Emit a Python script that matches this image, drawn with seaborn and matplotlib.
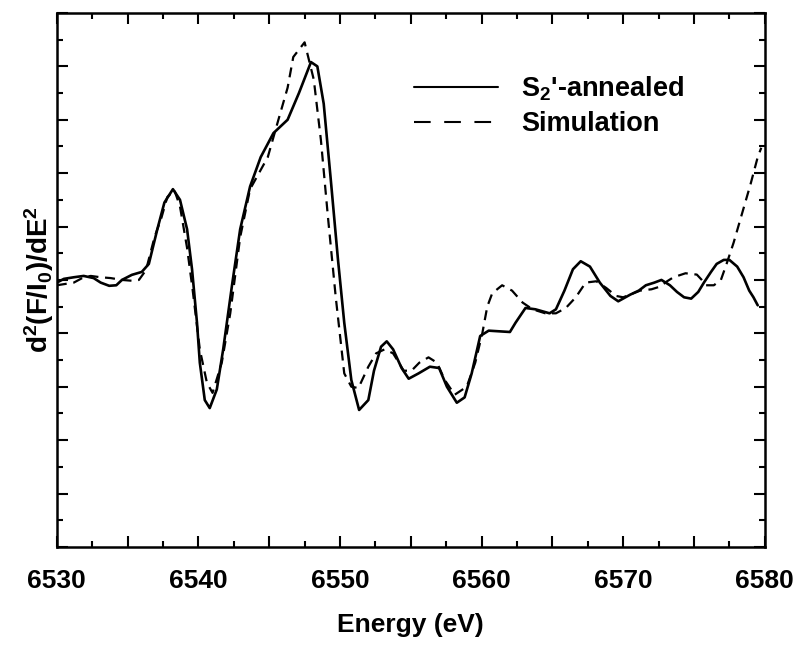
import numpy as np
import pandas as pd
import matplotlib
matplotlib.use("Agg")
import matplotlib.pyplot as plt
from matplotlib.lines import Line2D
from matplotlib.ticker import MultipleLocator, FuncFormatter
import seaborn as sns

# S2'-annealed spectrum (arbitrary y units)
annealed_e = [6530.0, 6530.5, 6531.2, 6531.9, 6532.6, 6533.1, 6533.7, 6534.2, 6534.6, 6535.3,
              6536.0, 6536.5, 6537.1, 6537.6, 6538.2, 6538.7, 6539.2, 6539.55, 6539.9, 6540.1,
              6540.45, 6540.8, 6541.3, 6541.75, 6542.4, 6542.95, 6543.65, 6544.4, 6545.3, 6546.3,
              6547.1, 6547.95, 6548.4, 6548.85, 6549.35, 6549.85, 6550.3, 6550.8, 6551.35, 6552.0,
              6552.4, 6552.9, 6553.3, 6553.75, 6554.35, 6554.85, 6555.55, 6556.35, 6557.0, 6557.55,
              6558.25, 6558.8, 6559.3, 6559.9, 6560.5, 6562.0, 6562.4, 6563.1, 6563.8, 6564.8,
              6565.25, 6565.85, 6566.45, 6567.0, 6567.65, 6568.35, 6569.1, 6569.65, 6570.5, 6571.1,
              6571.6, 6572.2, 6572.7, 6573.3, 6573.8, 6574.3, 6574.8, 6575.3, 6575.7, 6576.2,
              6576.6, 6577.1, 6577.5, 6578.05, 6578.5, 6578.9, 6579.2, 6579.5]
annealed_y = [9.9, 10.04, 10.1, 10.15, 10.07, 9.9, 9.78, 9.8, 10.0, 10.19,
              10.3, 10.6, 11.9, 12.9, 13.4, 13.0, 11.9, 10.4, 8.4, 6.9,
              5.5, 5.2, 5.9, 7.4, 9.9, 11.9, 13.5, 14.6, 15.5, 16.0,
              17.0, 18.16, 18.0, 16.6, 13.75, 10.8, 8.4, 6.25, 5.13, 5.5,
              6.6, 7.5, 7.7, 7.4, 6.7, 6.3, 6.5, 6.75, 6.7, 6.0,
              5.4, 5.6, 6.5, 7.9, 8.1, 8.05, 8.4, 8.95, 8.9, 8.75,
              8.9, 9.6, 10.4, 10.7, 10.5, 9.9, 9.4, 9.2, 9.45, 9.6,
              9.8, 9.9, 10.0, 9.8, 9.55, 9.35, 9.3, 9.55, 9.9, 10.3,
              10.6, 10.75, 10.75, 10.5, 10.1, 9.6, 9.35, 9.05]

# Simulation
sim_e = [6530.0, 6531.2, 6531.9, 6532.4, 6533.1, 6533.8, 6534.6, 6535.3, 6535.8, 6536.3,
         6536.9, 6537.4, 6537.8, 6538.3, 6538.7, 6539.2, 6539.6, 6540.1, 6540.6, 6541.0,
         6541.65, 6542.25, 6542.95, 6543.65, 6544.9, 6545.65, 6546.3, 6546.7, 6547.5, 6548.15,
         6548.65, 6549.15, 6549.7, 6550.3, 6550.8, 6551.3, 6552.0, 6552.55, 6553.15, 6553.75,
         6554.5, 6555.05, 6555.6, 6556.25, 6556.85, 6557.4, 6558.1, 6558.95, 6559.55, 6560.05,
         6560.4, 6560.75, 6561.45, 6562.15, 6562.9, 6563.6, 6564.5, 6565.25, 6565.95, 6566.65,
         6567.35, 6568.1, 6568.8, 6569.5, 6570.0, 6571.2, 6572.0, 6572.6, 6573.1, 6573.55,
         6574.4, 6575.2, 6575.55, 6575.85, 6576.4, 6576.9, 6577.3, 6577.8, 6578.4, 6579.0,
         6579.5, 6579.75]
sim_y = [9.8, 9.9, 10.1, 10.15, 10.1, 10.07, 10.0, 9.97, 10.0, 10.37,
         11.6, 12.35, 13.1, 13.37, 12.75, 11.2, 9.6, 7.4, 6.15, 5.77,
         6.9, 8.75, 11.6, 13.4, 14.6, 16.0, 17.2, 18.35, 18.9, 17.5,
         15.25, 12.35, 9.35, 6.5, 6.0, 5.95, 6.75, 7.25, 7.4, 7.25,
         6.6, 6.6, 6.9, 7.1, 6.9, 6.25, 5.7, 6.0, 6.9, 8.0,
         9.0, 9.5, 9.8, 9.6, 9.15, 8.9, 8.75, 8.75, 8.95, 9.35,
         9.9, 9.95, 9.7, 9.4, 9.35, 9.6, 9.65, 9.75, 9.95, 10.1,
         10.25, 10.2, 10.0, 9.8, 9.8, 10.0, 10.6, 11.4, 12.5, 13.6,
         14.6, 14.95]

annealed_df = pd.DataFrame({"energy": annealed_e, "d2": annealed_y})
sim_df = pd.DataFrame({"energy": sim_e, "d2": sim_y})

sns.set_style("ticks", {"axes.edgecolor": "black", "text.color": "black",
                        "axes.labelcolor": "black", "xtick.color": "black",
                        "ytick.color": "black"})
plt.rcParams["font.family"] = ["Liberation Sans", "DejaVu Sans"]
plt.rcParams["font.weight"] = "bold"
plt.rcParams["mathtext.fontset"] = "custom"
plt.rcParams["mathtext.default"] = "bf"
plt.rcParams["mathtext.bf"] = "Liberation Sans:bold"
plt.rcParams["mathtext.rm"] = "Liberation Sans:bold"

fig = plt.figure(figsize=(8, 6.48), dpi=100)
ax = fig.add_axes([0.071, 0.156, 0.885, 0.824])

sns.lineplot(data=annealed_df, x="energy", y="d2", ax=ax, color="black",
             lw=1.9, estimator=None, sort=False)
sns.lineplot(data=sim_df, x="energy", y="d2", ax=ax, color="black",
             lw=1.6, linestyle=(0, (4.5, 3)), estimator=None, sort=False)

ax.set_xlim(6530, 6580)
ax.set_ylim(0, 20)

ax.xaxis.set_major_locator(MultipleLocator(5))
ax.xaxis.set_minor_locator(MultipleLocator(2.5))
ax.xaxis.set_major_formatter(FuncFormatter(lambda v, p: f"{v:.0f}" if round(v) % 10 == 0 else ""))
ax.yaxis.set_major_locator(MultipleLocator(2))
ax.yaxis.set_minor_locator(MultipleLocator(1))
ax.yaxis.set_major_formatter(FuncFormatter(lambda v, p: ""))

ax.tick_params(which="both", direction="in", top=True, right=True, width=1.5)
ax.tick_params(which="major", length=8)
ax.tick_params(which="minor", length=4.5)
ax.tick_params(axis="x", which="major", labelsize=19, pad=16)

for s in ax.spines.values():
    s.set_linewidth(1.8)

ax.set_xlabel("Energy (eV)", fontsize=19, fontweight="bold", labelpad=14)
ax.set_ylabel(r"d$^2$(F/I$_0$)/dE$^2$", fontsize=20, fontweight="bold", labelpad=-3)

handles = [Line2D([], [], color="black", lw=1.5),
           Line2D([], [], color="black", lw=1.5, linestyle=(0, (8, 6.5)))]
ax.legend(handles, [r"S$_2$'-annealed", "Simulation"], loc="upper left",
          bbox_to_anchor=(0.505, 0.885), frameon=False, fontsize=19.5,
          handlelength=3.1, handletextpad=0.85, labelspacing=0.3, borderpad=0,
          borderaxespad=0)

fig.savefig("out.png", dpi=100)
